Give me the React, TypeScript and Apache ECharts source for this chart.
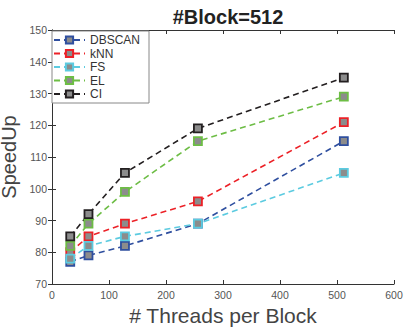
import React, { useEffect, useRef } from "react";
import * as echarts from "echarts";

const threads = [32, 64, 128, 256, 512];
const dbscan = [77, 79, 82, 89, 115];
const knn = [80, 85, 89, 96, 121];
const fs = [78, 82, 85, 89, 105];
const el = [82, 89, 99, 115, 129];
const ci = [85, 92, 105, 119, 135];

const seriesDefs = [
  { name: "DBSCAN", data: dbscan, color: "#2f4f9f" },
  { name: "kNN", data: knn, color: "#ec2127" },
  { name: "FS", data: fs, color: "#5ccbe0" },
  { name: "EL", data: el, color: "#6dbd45" },
  { name: "CI", data: ci, color: "#231f20" },
];

const font = "Liberation Sans, Arial, Helvetica, sans-serif";

export default function App() {
  const ref = useRef<HTMLDivElement>(null);
  useEffect(() => {
    if (!ref.current) return;
    const chart = echarts.init(ref.current, undefined, { renderer: "svg" });
    const axisCommon = {
      axisLine: { show: true, lineStyle: { color: "#333", width: 1 } },
      axisTick: { show: true, inside: true, length: 4, lineStyle: { color: "#333" } },
      splitLine: { show: false },
    };
    chart.setOption({
      animation: false,
      backgroundColor: "#fff",
      title: {
        text: "#Block=512",
        left: 223,
        textAlign: "center",
        top: 2,
        textStyle: { fontFamily: font, fontSize: 20, fontWeight: "bold", color: "#222" },
      },
      legend: {
        orient: "vertical",
        left: 52,
        top: 31,
        padding: [3, 9, 3, 1],
        itemWidth: 31,
        itemHeight: 9,
        itemGap: 1.5,
        borderColor: "#888",
        borderWidth: 1,
        backgroundColor: "#fff",
        textStyle: { fontFamily: font, fontSize: 12, color: "#333", lineHeight: 12 },
        data: seriesDefs.map((s) => s.name),
      },
      grid: { left: 52, right: 11, top: 30, bottom: 51, containLabel: false, outerBoundsMode: "none" },
      xAxis: [
        {
          type: "value",
          min: 0,
          max: 600,
          interval: 100,
          name: "# Threads per Block",
          nameLocation: "middle",
          nameGap: 21,
          nameTextStyle: { fontFamily: font, fontSize: 21, color: "#444" },
          axisLabel: { fontFamily: font, fontSize: 10.5, color: "#555", margin: 5 },
          ...axisCommon,
        },
        {
          type: "value",
          position: "top",
          min: 0,
          max: 600,
          interval: 100,
          axisLabel: { show: false },
          ...axisCommon,
        },
      ],
      yAxis: [
        {
          type: "value",
          min: 70,
          max: 150,
          interval: 10,
          name: "SpeedUp",
          nameLocation: "middle",
          nameGap: 24,
          nameTextStyle: { fontFamily: font, fontSize: 20, color: "#444", lineHeight: 20 },
          axisLabel: { fontFamily: font, fontSize: 10.5, color: "#555", margin: 5 },
          ...axisCommon,
        },
        {
          type: "value",
          position: "right",
          min: 70,
          max: 150,
          interval: 10,
          axisLabel: { show: false },
          ...axisCommon,
        },
      ],
      series: seriesDefs.map((s) => ({
        name: s.name,
        type: "line",
        xAxisIndex: 0,
        yAxisIndex: 0,
        data: threads.map((t, i) => [t, s.data[i]]),
        symbol: "rect",
        symbolSize: 8,
        lineStyle: { color: s.color, width: 1.6, type: [6, 4] },
        itemStyle: { color: "#8c8c8c", borderColor: s.color, borderWidth: 1.8 },
        emphasis: { disabled: true },
      })),
    });
    return () => chart.dispose();
  }, []);
  return <div ref={ref} style={{ width: 405, height: 335, position: "absolute", left: 0, top: 0 }} />;
}
